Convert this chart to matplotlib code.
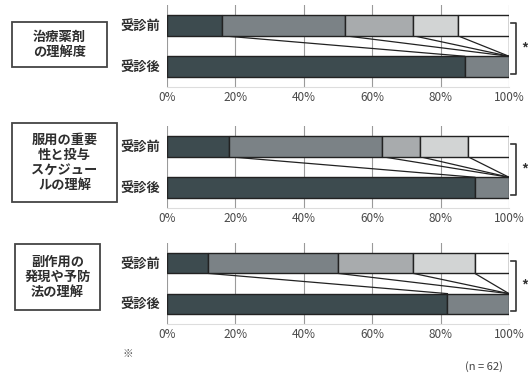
import numpy as np
import matplotlib
matplotlib.use("Agg")
import matplotlib.pyplot as plt
from matplotlib.patches import Rectangle

plt.rcParams['font.family'] = ['Noto Sans CJK JP', 'DejaVu Sans']

# data
topics = ['治療薬剤\nの理解度',
          '服用の重要\n性と投与\nスケジュー\nルの理解',
          '副作用の\n発現や予防\n法の理解']
rows = ['受診前', '受診後']
before = [[16, 36, 20, 13, 15],
          [18, 45, 11, 14, 12],
          [12, 38, 22, 18, 10]]
after = [[87, 13, 0, 0, 0],
         [90, 10, 0, 0, 0],
         [82, 18, 0, 0, 0]]
ticks = [0, 20, 40, 60, 80, 100]
tick_labels = ['0%', '20%', '40%', '60%', '80%', '100%']
n_note = '(n = 62)'

colors = ['#3d4b4f', '#7b8286', '#a8abad', '#d2d4d4', '#ffffff']

W, H = 528, 379
fig = plt.figure(figsize=(W / 100, H / 100), dpi=100)

# pixel layout of each panel: (axes top, axes bottom)
panels = [(5, 87), (126, 208), (243, 324)]
boxes = [(12, 22, 107, 67), (12, 123, 117, 202), (15, 244, 100, 310)]
x0, x1 = 167, 509
bar_h = 0.5

def px_axes(left, top, right, bottom):
    return fig.add_axes([left / W, 1 - bottom / H, (right - left) / W, (bottom - top) / H])

for i, (top, bot) in enumerate(panels):
    ax = px_axes(x0, top, x1, bot)
    ax.set_xlim(0, 100)
    ax.set_ylim(1.5, -0.5)
    for x in ticks:
        ax.axvline(x, color='#9a9a9a', lw=0.8, zorder=0)
    for j, vals in enumerate([before[i], after[i]]):
        left = 0
        for k, v in enumerate(vals):
            if v > 0:
                ax.barh(j, v, left=left, height=bar_h, color=colors[k],
                        edgecolor='#222222', linewidth=1.0, zorder=2)
            left += v
    # series lines
    cb = np.cumsum(before[i])
    ca = np.cumsum(after[i])
    for k in range(len(cb)):
        ax.plot([cb[k], ca[k]], [bar_h / 2, 1 - bar_h / 2], color='#222222',
                lw=0.9, zorder=1)
    for s in ['top', 'left', 'right']:
        ax.spines[s].set_visible(False)
    ax.spines['bottom'].set_color('#dddddd')
    ax.set_xticks(ticks)
    ax.set_xticklabels(tick_labels, fontsize=8.5, color='#4a4a4a')
    ax.tick_params(axis='x', length=0, pad=3)
    ax.set_yticks([0, 1])
    ax.set_yticklabels(rows, fontsize=9.5, fontweight='bold', color='#2e2e2e')
    ax.tick_params(axis='y', length=0, pad=5)

# overlay for boxes, brackets and notes
ov = fig.add_axes([0, 0, 1, 1])
ov.set_xlim(0, W)
ov.set_ylim(H, 0)
ov.axis('off')

for i, (l, t, r, b) in enumerate(boxes):
    ov.add_patch(Rectangle((l, t), r - l, b - t, fill=False, ec='#444444', lw=1.3))
    ov.text((l + r) / 2, (t + b) / 2, topics[i], ha='center', va='center',
            fontsize=9.5, fontweight='bold', color='#2e2e2e', linespacing=1.1)

for top, bot in panels:
    y1 = top + 18
    y2 = bot - 13
    ov.plot([511, 516, 516, 511], [y1, y1, y2, y2], color='#333333', lw=1.2)
    ov.text(521, (y1 + y2) / 2, '*', fontsize=10, fontweight='bold',
            ha='left', va='center', color='#333333')

ov.text(128, 354, '※', fontsize=7.5, ha='center', va='center', color='#555555')
ov.text(484, 367, n_note, fontsize=8, ha='center', va='center', color='#444444')

fig.savefig('out.png', dpi=100)
